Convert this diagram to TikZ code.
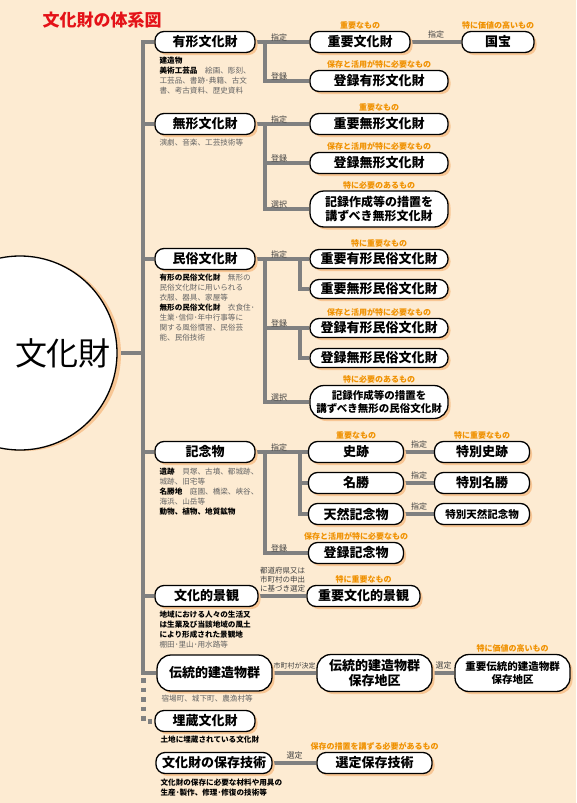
\documentclass[tikz,border=0pt]{standalone}
\usepackage{fontspec}
\setmainfont{Noto Sans CJK JP}
\usepackage{xcolor}
\usetikzlibrary{positioning, shadows, backgrounds}
\definecolor{bgpeach}{RGB}{253,235,210}
\definecolor{shadowtan}{RGB}{248,198,148}
\definecolor{noteorange}{RGB}{240,145,0}
\definecolor{titlered}{RGB}{228,18,24}
\definecolor{linegray}{RGB}{128,128,128}
\definecolor{descgray}{RGB}{100,100,100}
\newcommand{\termb}[1]{\textcolor{black}{\bfseries #1}}

\begin{document}
\begin{tikzpicture}[
  x=1pt, y=-1pt,
  % box styles
  pill/.style={
    draw=black, line width=1.3pt, fill=white, rounded corners=9pt,
    minimum height=21pt, inner sep=0pt, align=center,
    font=\fontsize{13}{15}\selectfont\bfseries,
    drop shadow={fill=shadowtan, opacity=1, shadow xshift=2.5pt, shadow yshift=-2.5pt}
  },
  tallpill/.style={pill, rounded corners=14pt, minimum height=36pt},
  catbox/.style={pill, minimum width=100pt},
  smalltext/.style={font=\fontsize{10.5}{13}\selectfont\bfseries},
  hub/.style={
    circle, draw=black, line width=1.3pt, fill=white, minimum size=194pt,
    inner sep=0pt,
    drop shadow={fill=shadowtan, opacity=1, shadow xshift=4pt, shadow yshift=-1pt}
  },
  % connector styles
  trunk/.style={draw=linegray, line width=4.5pt},
  branch/.style={draw=linegray, line width=3.5pt},
  dots/.style={draw=linegray, line width=5pt, dash pattern=on 4.5pt off 5pt, dash phase=4.5pt},
  % label styles
  note/.style={text=noteorange, font=\fontsize{8}{9}\selectfont\bfseries, inner sep=1pt},
  branchlbl/.style={text=black!75, font=\fontsize{8}{9}\selectfont, inner sep=1pt},
  desc/.style={anchor=north west, align=left, inner sep=0pt, text=descgray,
    font=\fontsize{7.6}{10}\selectfont}
]
\useasboundingbox (0,0) rectangle (576,803);

% ── guide coordinates ──────────────────────────────────
\coordinate (tx) at (143,0);
\coordinate (sx) at (265,0);
\coordinate (sx2) at (300,0);

% ── title and hub ──────────────────────────────────────
\node[font=\fontsize{17}{18}\selectfont\bfseries, text=titlered] (title) at (102,20) {文化財の体系図};
\node[hub] (bunka) at (20,353) {};
\node[font=\fontsize{32}{34}\selectfont] (bunkalbl) at (63,353) {文化財};

% ── categories ─────────────────────────────────────────
\node[catbox] (yukei) at (205,42) {有形文化財};
\node[desc] (yukeidesc) at ([xshift=5pt, yshift=-4pt]yukei.south west) {\termb{建造物}\\
  \termb{美術工芸品}\quad 絵画、彫刻、\\
  工芸品、書跡･典籍、古文\\
  書、考古資料、歴史資料};

\node[catbox] (mukei) at (205,124) {無形文化財};
\node[desc] (mukeidesc) at ([xshift=5pt, yshift=-4pt]mukei.south west) {演劇、音楽、工芸技術等};

\node[catbox] (minzoku) at (205,259) {民俗文化財};
\node[desc] (minzokudesc) at ([xshift=5pt, yshift=-4pt]minzoku.south west) {\termb{有形の民俗文化財}\quad 無形の\\
  民俗文化財に用いられる\\
  衣服、器具、家屋等\\
  \termb{無形の民俗文化財}\quad 衣食住･\\
  生業･信仰･年中行事等に\\
  関する風俗慣習、民俗芸\\
  能、民俗技術};

\node[catbox] (kinen) at (205,452) {記念物};
\node[desc] (kinendesc) at ([xshift=5pt, yshift=-5pt]kinen.south west) {\termb{遺跡}\quad 貝塚、古墳、都城跡、\\
  城跡、旧宅等\\
  \termb{名勝地}\quad 庭園、橋梁、峡谷、\\
  海浜、山岳等\\
  \termb{動物、植物、地質鉱物}};

\node[catbox, minimum width=103pt] (keikan) at (206.5,596) {文化的景観};
\node[desc] (keikandesc) at ([xshift=5pt, yshift=-4pt]keikan.south west) {\termb{地域における人々の生活又}\\
  \termb{は生業及び当該地域の風土}\\
  \termb{により形成された景観地}\\
  棚田･里山･用水路等};

\node[tallpill, minimum width=115pt] (dentou) at (214.5,673) {伝統的建造物群};
\node[desc] (dentoudesc) at ([xshift=5pt, yshift=-3pt]dentou.south west) {宿場町、城下町、農漁村等};

\node[catbox] (maizou) at (205,721) {埋蔵文化財};
\node[desc] (maizoudesc) at ([xshift=6pt, yshift=-4pt]maizou.south west) {\termb{土地に埋蔵されている文化財}};

\node[catbox, minimum width=116pt] (hozon) at (214,763) {文化財の保存技術};
\node[desc] (hozondesc) at ([xshift=5pt, yshift=-5pt]hozon.south west) {\termb{文化財の保存に必要な材料や用具の}\\
  \termb{生産･製作、修理･修復の技術等}};

% ── 有形文化財 ─────────────────────────────────────────
\node[pill, minimum width=100pt] (juyo) at (360,42) {重要文化財};
\node[note, above=0pt of juyo] (juyonote) {重要なもの};
\node[pill, minimum width=72pt] (kokuho) at (498,42) {国宝};
\node[note, above=0pt of kokuho] (kokuhonote) {特に価値の高いもの};
\node[pill, minimum width=138pt] (torokuyukei) at (379,81) {登録有形文化財};
\node[note, above=0pt of torokuyukei] (torokuyukeinote) {保存と活用が特に必要なもの};

% ── 無形文化財 ─────────────────────────────────────────
\node[pill, minimum width=138pt] (juyomukei) at (379,124) {重要無形文化財};
\node[note, above=0pt of juyomukei] (juyomukeinote) {重要なもの};
\node[pill, minimum width=138pt] (torokumukei) at (379,163) {登録無形文化財};
\node[note, above=0pt of torokumukei] (torokumukeinote) {保存と活用が特に必要なもの};
\node[tallpill, minimum width=138pt, font=\fontsize{12}{14}\selectfont\bfseries] (kirokumukei) at (379,209) {記録作成等の措置を\\講ずべき無形文化財};
\node[note, above=0pt of kirokumukei] (kirokumukeinote) {特に必要のあるもの};

% ── 民俗文化財 ─────────────────────────────────────────
\node[pill, minimum width=138pt, minimum height=19pt] (juyoyukeimin) at (379,259) {重要有形民俗文化財};
\node[note, above=0pt of juyoyukeimin] (juyoyukeiminnote) {特に重要なもの};
\node[pill, minimum width=138pt, minimum height=19pt] (juyomukeimin) at (379,289) {重要無形民俗文化財};
\node[pill, minimum width=138pt, minimum height=19pt] (torokuyukeimin) at (379,328) {登録有形民俗文化財};
\node[note, above=0pt of torokuyukeimin] (torokuyukeiminnote) {保存と活用が特に必要なもの};
\node[pill, minimum width=138pt, minimum height=19pt] (torokumukeimin) at (379,358) {登録無形民俗文化財};
\node[tallpill, smalltext, minimum width=138pt, minimum height=33pt] (kirokumin) at (379,402) {記録作成等の措置を\\講ずべき無形の民俗文化財};
\node[note, above=0pt of kirokumin] (kirokuminnote) {特に必要のあるもの};

% ── 記念物 ─────────────────────────────────────────────
\node[pill, minimum width=95pt] (shiseki) at (356,452) {史跡};
\node[note, above=0pt of shiseki] (shisekinote) {重要なもの};
\node[pill, minimum width=95pt] (meisho) at (356,483) {名勝};
\node[pill, minimum width=95pt] (tennen) at (356,514) {天然記念物};
\node[pill, minimum width=95pt] (tokushiseki) at (482,452) {特別史跡};
\node[note, above=0pt of tokushiseki] (tokushisekinote) {特に重要なもの};
\node[pill, minimum width=95pt] (tokumeisho) at (482,483) {特別名勝};
\node[pill, smalltext, minimum width=95pt] (tokutennen) at (482,514) {特別天然記念物};
\node[pill, minimum width=95pt] (torokukinen) at (356,553) {登録記念物};
\node[note, above=0pt of torokukinen] (torokukinennote) {保存と活用が特に必要なもの};

% ── 文化的景観 / 伝統的建造物群 / 保存技術 ─────────────
\node[pill, minimum width=113pt] (juyokeikan) at (363.5,596) {重要文化的景観};
\node[note, above=0pt of juyokeikan] (juyokeikannote) {特に重要なもの};
\node[tallpill, minimum width=115pt, minimum height=37pt] (dentouchiku) at (374.5,673) {伝統的建造物群\\保存地区};
\node[tallpill, smalltext, minimum width=115pt, minimum height=37pt] (juyodentou) at (512.5,673) {重要伝統的建造物群\\保存地区};
\node[note, above=0pt of juyodentou] (juyodentounote) {特に価値の高いもの};
\node[pill, minimum width=115pt] (sentei) at (374.5,763) {選定保存技術};
\node[note, above=0pt of sentei] (senteinote) {保存の措置を講ずる必要があるもの};

% ── connectors (behind the boxes) ──────────────────────
\begin{scope}[on background layer]
  \fill[bgpeach] (0,0) rectangle (576,803);

  % main trunk
  \draw[trunk] (yukei.west) -| (dentou.west -| tx) -- (dentou.west);
  \foreach \cat in {mukei, minzoku, kinen, keikan}
    \draw[trunk] (\cat.west -| tx) -- (\cat.west);
  \draw[trunk] (bunka.east) -- (bunka.east -| tx);
  \draw[dots] (dentou.west -| tx) -- (maizou.west -| tx) -- (maizou.west);

  % 有形文化財
  \draw[branch] (yukei.east) -- (juyo.west);
  \draw[branch] (juyo.east) -- node[branchlbl, above=1pt] (juyoshitei) {指定} (kokuho.west);
  \draw[branch] (yukei.east -| sx) |- (torokuyukei.west);

  % 無形文化財
  \draw[branch] (mukei.east) -- (juyomukei.west);
  \draw[branch] (mukei.east -| sx) |- (torokumukei.west);
  \draw[branch] (mukei.east -| sx) |- (kirokumukei.west);

  % 民俗文化財
  \draw[branch] (minzoku.east) -- (juyoyukeimin.west);
  \draw[branch] (minzoku.east -| sx) |- (kirokumin.west);
  \draw[branch] (torokuyukeimin.west -| sx) -- (torokuyukeimin.west);
  \draw[branch] (juyoyukeimin.west -| sx2) |- (juyomukeimin.west);
  \draw[branch] (torokuyukeimin.west -| sx2) |- (torokumukeimin.west);

  % 記念物
  \draw[branch] (kinen.east) -- (shiseki.west);
  \draw[branch] (kinen.east -| sx) |- (torokukinen.west);
  \draw[branch] (shiseki.west -| sx2) |- (meisho.west);
  \draw[branch] (shiseki.west -| sx2) |- (tennen.west);
  \draw[branch] (shiseki.east) -- node[branchlbl, above=1pt] (shisekishitei) {指定} (tokushiseki.west);
  \draw[branch] (meisho.east) -- node[branchlbl, above=1pt] (meishoshitei) {指定} (tokumeisho.west);
  \draw[branch] (tennen.east) -- node[branchlbl, above=1pt] (tennenshitei) {指定} (tokutennen.west);

  % 文化的景観
  \draw[branch] (keikan.east) -- node[branchlbl, above=1pt, align=center,
      font=\fontsize{7.5}{9}\selectfont] (keikanlbl) {都道府県又は\\市町村の申出\\に基づき選定} (juyokeikan.west);

  % 伝統的建造物群
  \draw[branch] (dentou.east) -- node[branchlbl, above=1pt,
      font=\fontsize{7}{8}\selectfont] (dentoulbl) {市町村が決定} (dentouchiku.west);
  \draw[branch] (dentouchiku.east) -- node[branchlbl, above=1pt] (dentousentei) {選定} (juyodentou.west);

  % 保存技術
  \draw[branch] (hozon.east) -- node[branchlbl, above=1pt] (hozonsentei) {選定} (sentei.west);
\end{scope}

% ── sub-trunk labels ───────────────────────────────────
\node[branchlbl, above right=0pt and 5pt] (yukeishitei) at (yukei.east -| sx) {指定};
\node[branchlbl, above right=0pt and 5pt] (yukeitoroku) at (torokuyukei.west -| sx) {登録};
\node[branchlbl, above right=0pt and 5pt] (mukeishitei) at (mukei.east -| sx) {指定};
\node[branchlbl, above right=0pt and 5pt] (mukeitoroku) at (torokumukei.west -| sx) {登録};
\node[branchlbl, above right=0pt and 5pt] (mukeisentaku) at (kirokumukei.west -| sx) {選択};
\node[branchlbl, above right=0pt and 5pt] (minzokushitei) at (minzoku.east -| sx) {指定};
\node[branchlbl, above right=0pt and 5pt] (minzokutoroku) at (torokuyukeimin.west -| sx) {登録};
\node[branchlbl, above right=0pt and 5pt] (minzokusentaku) at (kirokumin.west -| sx) {選択};
\node[branchlbl, above right=0pt and 5pt] (kinenshitei) at (kinen.east -| sx) {指定};
\node[branchlbl, above right=0pt and 5pt] (kinentoroku) at (torokukinen.west -| sx) {登録};

\end{tikzpicture}
\end{document}
